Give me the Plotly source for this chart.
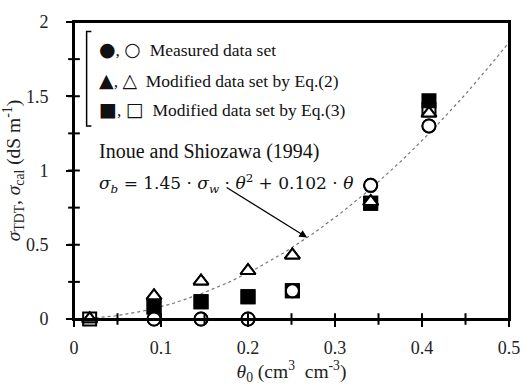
import numpy as np
import plotly.graph_objects as go

# Volumetric water content of each sample
theta = [0.018, 0.092, 0.146, 0.200, 0.251, 0.341, 0.408]

# Measured data set (filled: TDT, open: calculated)
meas_tdt = [None, 0.0, 0.0, 0.0, 0.19, 0.90, 1.30]
meas_cal = [None, 0.0, 0.0, 0.0, 0.19, 0.90, 1.30]

# Modified data set by Eq.(2)
eq2_tdt = [0.0, 0.155, 0.255, 0.325, 0.43, 0.79, 1.385]
eq2_cal = [0.0, 0.155, 0.255, 0.325, 0.43, 0.79, 1.385]

# Modified data set by Eq.(3)
eq3_tdt = [None, 0.08, 0.117, 0.15, 0.19, 0.78, 1.47]
eq3_cal = [0.0, 0.08, 0.117, 0.15, 0.19, 0.78, 1.41]

# Inoue and Shiozawa (1994) model
sigma_w = 5.0
coef_a = 1.45
coef_b = 0.102
theta_model = np.linspace(0.018, 0.5, 120)
sigma_model = coef_a * sigma_w * theta_model ** 2 + coef_b * theta_model

# Axis ticks (labelled and unlabelled)
x_major = [0, 0.1, 0.2, 0.3, 0.4, 0.5]
x_all_ticks = [0, 0.05, 0.1, 0.15, 0.2, 0.25, 0.3, 0.35, 0.4, 0.45, 0.5]
y_major = [0, 0.5, 1, 1.5, 2]
y_all_ticks = [0, 0.25, 0.5, 0.75, 1, 1.25, 1.5, 1.75, 2]

FONT = "Liberation Serif"
MS = 13
LW = 2
W, H = 532, 385
M = dict(l=73, r=13, t=15, b=61)
PW = W - M["l"] - M["r"]
PH = H - M["t"] - M["b"]
TICK_HALF = 6  # px each side of the axis line

fig = go.Figure()

fig.add_trace(go.Scatter(x=theta_model, y=sigma_model, mode="lines",
                         line=dict(color="#777777", width=1.2, dash="dot"),
                         hoverinfo="skip"))


def add_points(y, symbol, fill):
    fig.add_trace(go.Scatter(
        x=theta, y=y, mode="markers", cliponaxis=False,
        marker=dict(symbol=symbol, size=MS, color=fill,
                    line=dict(color="black", width=LW))))


add_points(eq3_cal, "square", "white")
add_points(eq3_tdt, "square", "black")
add_points(eq2_tdt, "triangle-up", "black")
add_points(meas_tdt, "circle", "black")
add_points(eq2_cal, "triangle-up", "white")
add_points(meas_cal, "circle", "white")

tick_font = dict(family=FONT, size=18, color="#222")
title_font = dict(family=FONT, size=19.5, color="#222")

fig.update_layout(
    width=W, height=H, margin=M,
    plot_bgcolor="white", paper_bgcolor="white",
    showlegend=False,
    xaxis=dict(range=[0, 0.5], tickvals=x_major,
               ticktext=[f"{v:g}" for v in x_major], ticks="outside",
               ticklen=6, tickwidth=2, tickcolor="#000000",
               ticklabelstandoff=5, showline=True, linecolor="#000000",
               linewidth=2, mirror=True, showgrid=False,
               zeroline=False, tickfont=tick_font,
               title=dict(text="<i>θ</i><sub>0</sub> (cm<sup>3</sup>  cm<sup>-3</sup>)",
                          font=title_font, standoff=2)),
    yaxis=dict(range=[0, 2], tickvals=y_major,
               ticktext=[f"{v:g}" for v in y_major], ticks="outside",
               ticklen=6, tickwidth=2, tickcolor="#000000",
               ticklabelstandoff=14, showline=True, linecolor="#000000",
               linewidth=2, mirror=True, showgrid=False,
               zeroline=False, tickfont=tick_font,
               title=dict(text="<i>σ</i><sub>TDT</sub>, <i>σ</i><sub>cal</sub> (dS m<sup>-1</sup>)",
                          font=title_font, standoff=0)),
)

# Plot frame
fig.add_shape(type="path", xref="paper", yref="paper",
              path="M 0 0 L 1 0 L 1 1 L 0 1 Z",
              line=dict(color="#000000", width=2))

# Ticks crossing the axis lines
dy = TICK_HALF / PH
dx = TICK_HALF / PW
for xv in x_all_ticks:
    fig.add_shape(type="line", xref="x", yref="paper", x0=xv, x1=xv,
                  y0=-dy, y1=dy, line=dict(color="#000000", width=2))
for yv in y_all_ticks:
    fig.add_shape(type="line", xref="paper", yref="y", x0=-dx, x1=dx,
                  y0=yv, y1=yv, line=dict(color="#000000", width=2))

# Legend block
SYM = '<span style="font-family:DejaVu Sans;font-size:19px">{}</span>'
legend_rows = [
    (SYM.format("●") + ", " + SYM.format("○") + "  Measured data set", 0.909),
    (SYM.format("▲") + ", " + SYM.format("△") + "  Modified data set by Eq.(2)", 0.806),
    (SYM.format("■") + ", " + SYM.format("□") + "  Modified data set by Eq.(3)", 0.706),
]
for text, yp in legend_rows:
    fig.add_annotation(xref="paper", yref="paper", x=0.052, y=yp,
                       text=text, showarrow=False, xanchor="left",
                       yanchor="middle",
                       font=dict(family=FONT, size=17.5, color="#111"))

fig.add_shape(type="path", xref="paper", yref="paper",
              path="M 0.040 0.968 L 0.029 0.968 L 0.029 0.65 L 0.040 0.65",
              line=dict(color="black", width=1.5))

fig.add_annotation(xref="paper", yref="paper", x=0.052, y=0.565,
                   text="Inoue and Shiozawa (1994)", showarrow=False,
                   xanchor="left", yanchor="middle",
                   font=dict(family=FONT, size=20, color="#111"))
fig.add_annotation(xref="paper", yref="paper", x=0.053, y=0.455,
                   text="<i>σ</i><sub><i>b</i></sub> = 1.45 · <i>σ</i><sub><i>w</i></sub> · "
                        "<i>θ</i><sup>2</sup> + 0.102 · <i>θ</i>",
                   showarrow=False, xanchor="left", yanchor="middle",
                   font=dict(family="DejaVu Serif", size=17, color="#111"))

# Arrow pointing at the model curve
theta_arrow = 0.268
fig.add_annotation(x=theta_arrow,
                   y=coef_a * sigma_w * theta_arrow ** 2 + coef_b * theta_arrow,
                   ax=-82, ay=-51, text="", showarrow=True, arrowhead=2,
                   arrowsize=1.2, arrowwidth=1.3, arrowcolor="black")

fig.write_html("out.html")
